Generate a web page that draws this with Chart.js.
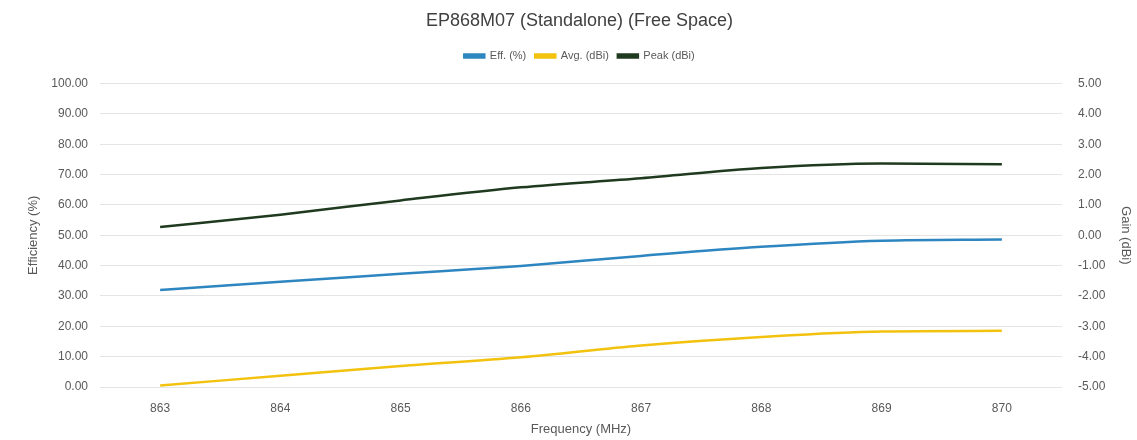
<!DOCTYPE html>
<html>
<head>
<meta charset="utf-8">
<script src="https://cdn.jsdelivr.net/npm/chart.js@4/dist/chart.umd.min.js"></script>
<style>
  html, body { margin: 0; padding: 0; background: #fff; }
  #wrap { width: 1137px; height: 440px; }
</style>
</head>
<body>
<div id="wrap"><canvas id="myChart" width="1137" height="440"></canvas></div>
<script>
// data
var frequencies = ["863", "864", "865", "866", "867", "868", "869", "870"];
var effPercent = [32.0, 34.7, 37.3, 39.9, 43.2, 46.2, 48.2, 48.6];
var avgGain = [-4.95, -4.63, -4.31, -4.02, -3.63, -3.35, -3.17, -3.15];
var peakGain = [0.27, 0.68, 1.15, 1.58, 1.88, 2.22, 2.37, 2.34];

var tickColor = '#595959';
var fontFamily = "'Liberation Sans', Arial, sans-serif";

// extra space under the legend
var legendGap = {
    id: 'legendGap',
    beforeInit: function (chart) {
        var fit = chart.legend.fit;
        chart.legend.fit = function () {
            fit.bind(chart.legend)();
            this.height += 12;
        };
    }
};

var ctx = document.getElementById("myChart");
var myChart = new Chart(ctx, {
    type: 'line',
    data: {
        labels: frequencies,
        datasets: [{
            label: 'Eff. (%)',
            data: effPercent,
            borderColor: '#2E86C1',
            backgroundColor: '#2E86C1',
            yAxisID: 'yEff'
        }, {
            label: 'Avg. (dBi)',
            data: avgGain,
            borderColor: '#F2C20F',
            backgroundColor: '#F2C20F',
            yAxisID: 'yGain'
        }, {
            label: 'Peak (dBi)',
            data: peakGain,
            borderColor: '#1F3A1F',
            backgroundColor: '#1F3A1F',
            yAxisID: 'yGain'
        }]
    },
    plugins: [legendGap],
    options: {
        responsive: false,
        animation: false,
        elements: {
            line: { borderWidth: 2.5, tension: 0.4, cubicInterpolationMode: 'monotone' },
            point: { radius: 0 }
        },
        layout: { padding: { top: 10, left: 22, right: 0, bottom: 0 } },
        plugins: {
            title: {
                display: true,
                text: 'EP868M07 (Standalone) (Free Space)',
                color: '#404040',
                font: { family: fontFamily, size: 18, weight: 'normal' },
                padding: { top: 0, bottom: 10 }
            },
            legend: {
                labels: {
                    boxWidth: 20,
                    boxHeight: 3,
                    color: tickColor,
                    font: { family: fontFamily, size: 11 },
                    padding: 9
                }
            },
            tooltip: { enabled: false }
        },
        scales: {
            x: {
                offset: true,
                grid: { display: false },
                border: { display: false },
                ticks: { color: tickColor, font: { family: fontFamily, size: 12 }, padding: 6 },
                title: {
                    display: true,
                    text: 'Frequency (MHz)',
                    color: tickColor,
                    font: { family: fontFamily, size: 13 },
                    padding: { top: 0, bottom: 3 }
                }
            },
            yEff: {
                position: 'left',
                min: 0,
                max: 100,
                grid: { color: '#e4e4e4', drawTicks: false },
                border: { display: false },
                ticks: {
                    stepSize: 10,
                    color: tickColor,
                    font: { family: fontFamily, size: 12 },
                    padding: 12,
                    callback: function (v) { return v.toFixed(2); }
                },
                title: {
                    display: true,
                    text: 'Efficiency (%)',
                    color: tickColor,
                    font: { family: fontFamily, size: 13 }
                },
                afterFit: function (scale) { scale.width = 78; }
            },
            yGain: {
                position: 'right',
                min: -5,
                max: 5,
                grid: { display: false },
                border: { display: false },
                ticks: {
                    stepSize: 1,
                    color: tickColor,
                    font: { family: fontFamily, size: 12 },
                    padding: 8,
                    callback: function (v) { return v.toFixed(2); }
                },
                title: {
                    display: true,
                    text: 'Gain (dBi)',
                    color: tickColor,
                    font: { family: fontFamily, size: 13 }
                },
                afterFit: function (scale) { scale.width = 75; }
            }
        }
    }
});
</script>
</body>
</html>
